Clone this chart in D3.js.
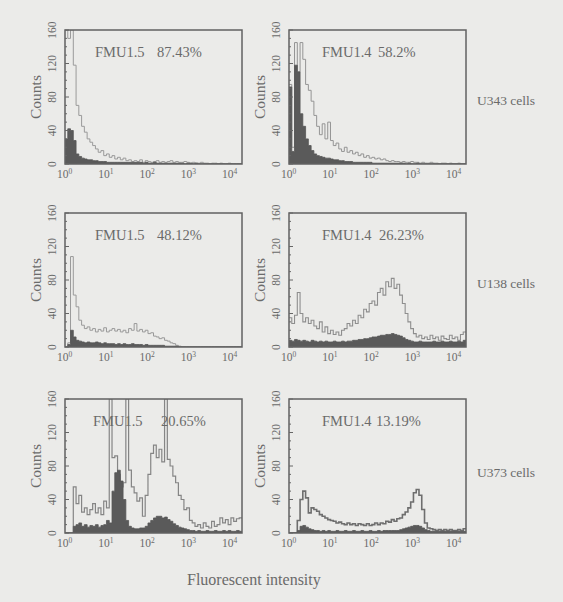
<!DOCTYPE html>
<html>
<head>
<meta charset="utf-8">
<script src="https://cdn.jsdelivr.net/npm/d3@7"></script>
<style>
  html, body { margin: 0; padding: 0; background: #ebebe9; }
  svg { display: block; }
  text { font-family: "Liberation Serif", "DejaVu Serif", serif; }
</style>
</head>
<body>
<svg id="chart" width="563" height="602"></svg>
<script>
// ---------------- DATA ----------------
const cellLines = ["U343 cells", "U138 cells", "U373 cells"];
const antibodies = ["FMU1.5", "FMU1.4"];
const percents = [["87.43%", "58.2%"], ["48.12%", "26.23%"], ["20.65%", "13.19%"]];
const yTicks = [0, 40, 80, 120, 160];
const xTicks = [1, 10, 100, 1000, 10000];
const xTickExp = ["0", "1", "2", "3", "4"];
const yMax = 160;
const binsPerDecade = 16;
const xAxisTitle = "Fluorescent intensity";
const yAxisTitle = "Counts";

// histograms: 64 log-spaced channels (16 per decade), counts per channel
const u343_fmu15_sample = [160,150,160,118,70,58,45,38,30,26, 22,18,14,16,10,12,8,10,6,8, 5,7,4,5,3,4,3,5,2,4, 3,2,3,4,2,3,2,3,4,2, 3,2,2,3,2,1,2,1,1,2, 1,1,0,1,1,0,1,0,0,1, 0,0,0,0];
const u343_fmu15_control = [30,42,40,28,12,9,7,6,5,5, 4,4,3,3,3,2,2,2,2,2, 2,2,2,2,2,2,2,2,1,2, 1,1,2,1,1,1,1,1,1,1, 1,1,1,0,1,1,0,1,0,0, 0,0,0,0,0,0,0,0,0,0, 0,0,0,0];
const u343_fmu14_sample = [95,20,145,110,145,125,95,88,75,58, 45,35,48,30,50,28,22,25,18,15, 20,14,16,12,14,10,12,8,10,7, 8,6,7,5,6,4,3,4,3,3, 2,3,2,2,3,2,2,1,2,1, 1,2,1,1,0,1,1,0,1,0, 0,1,0,0];
const u343_fmu14_control = [92,15,118,110,60,45,30,22,16,12, 10,9,8,7,7,6,5,5,4,4, 3,3,3,2,2,2,2,2,2,2, 1,1,1,1,1,1,1,1,1,1, 1,1,0,1,0,0,1,0,0,0, 0,0,0,0,0,0,0,0,0,0, 0,0,0,0];
const u138_fmu15_sample = [0,5,108,62,48,32,26,22,24,20, 22,18,21,19,23,18,20,22,19,21, 18,20,17,22,20,28,19,21,18,20, 16,17,13,12,10,11,8,7,5,4, 2,1,0,0,0,0,0,0,0,0, 0,0,0,0,0,0,0,0,0,0, 0,0,0,0];
const u138_fmu15_control = [0,3,20,12,8,7,6,5,6,5, 5,6,5,4,5,4,4,4,3,4, 3,4,3,3,4,3,3,3,2,3, 2,2,2,2,2,2,1,1,1,1, 1,0,0,0,0,0,0,0,0,0, 0,0,0,0,0,0,0,0,0,0, 0,0,0,0];
const u138_fmu14_sample = [35,28,38,65,40,30,35,28,32,25, 22,30,18,24,16,20,15,18,14,20, 22,28,25,32,28,38,35,45,42,52, 55,50,65,70,62,78,72,82,70,75, 62,52,40,30,22,16,12,14,10,12, 9,14,10,12,8,13,10,9,14,10, 12,8,15,18];
const u138_fmu14_control = [8,7,9,8,7,8,7,6,8,7, 6,7,6,7,6,6,7,6,6,7, 6,7,7,8,8,9,9,10,10,11, 12,12,13,14,14,15,15,16,15,14, 13,11,9,8,7,6,6,7,6,6, 6,6,7,6,6,7,6,6,7,6, 6,7,6,8];
const u373_fmu15_sample = [0,0,0,55,35,45,25,30,22,28, 35,24,30,22,38,30,160,90,92,70, 55,60,160,75,55,48,38,42,20,45, 70,95,105,90,100,85,160,88,80,68, 60,45,40,28,30,15,12,8,10,6, 12,8,6,14,8,10,18,12,16,10, 18,14,17,18];
const u373_fmu15_control = [0,0,0,8,10,12,8,10,7,9, 8,10,7,9,10,15,12,50,72,75, 62,40,15,8,6,5,5,6,6,8, 12,15,18,20,20,18,19,16,14,11, 9,7,6,5,4,3,3,2,3,2, 2,3,2,2,3,2,2,3,2,3, 2,2,3,2];
const u373_fmu14_sample = [0,0,0,15,40,50,42,24,30,28, 26,22,20,18,16,15,14,12,13,11, 10,12,10,11,9,11,10,9,11,9, 10,12,10,12,11,14,13,16,14,17, 18,22,25,30,37,48,52,45,28,12, 6,5,4,3,4,3,4,3,4,3, 3,4,3,5];
const u373_fmu14_control = [0,0,0,3,8,9,7,5,4,3, 3,2,3,2,3,2,2,3,2,2, 3,2,2,3,2,2,3,2,2,3, 2,2,3,2,3,3,3,3,3,3, 4,5,6,7,8,9,9,8,6,4, 3,2,2,2,2,2,2,2,2,2, 2,2,2,2];

const sampleSeries = [[u343_fmu15_sample, u343_fmu14_sample], [u138_fmu15_sample, u138_fmu14_sample], [u373_fmu15_sample, u373_fmu14_sample]];
const controlSeries = [[u343_fmu15_control, u343_fmu14_control], [u138_fmu15_control, u138_fmu14_control], [u373_fmu15_control, u373_fmu14_control]];

// ---------------- LAYOUT ----------------
const colX = [65, 289];
const rowY = [30, 213, 399];
const PW = 177, PH = 134;
const titleX = [[95, 322], [95, 322], [93, 322]];
const pctX = [[157, 378], [157, 379], [161, 376]];
const rowLabelBase = [105, 288, 477];
const lineStyle = [[["#9a9a9a", 1], ["#949494", 1]], [["#9a9a9a", 1], ["#8e8e8e", 1.1]], [["#858585", 1.2], ["#6e6e6e", 1.6]]];

const svg = d3.select("#chart");
const textCol = "#6a6a6a";

rowY.forEach((ty, r) => {
  colX.forEach((lx, c) => {
    const g = svg.append("g");
    const x = d3.scaleLog().domain([xTicks[0], xTicks[xTicks.length - 1]]).range([lx, lx + PW]);
    const xl = d3.scaleLog().domain([xTicks[0], xTicks[xTicks.length - 1]]).range([lx - 8, lx + PW - 20]);
    const y = d3.scaleLinear().domain([0, yMax]).range([ty + PH, ty]);

    const id = `clip${r}${c}`;
    svg.append("clipPath").attr("id", id).append("rect")
      .attr("x", lx).attr("y", ty).attr("width", PW).attr("height", PH);

    const toPts = arr => {
      const pts = arr.map((v, i) => [Math.pow(10, i / binsPerDecade), v]);
      pts.push([Math.pow(10, arr.length / binsPerDecade), arr[arr.length - 1]]);
      return pts;
    };

    const line = d3.line().x(d => x(d[0])).y(d => y(d[1])).curve(d3.curveStepAfter);
    const area = d3.area().x(d => x(d[0])).y0(y(0)).y1(d => y(d[1])).curve(d3.curveStepAfter);

    const [sc, sw] = lineStyle[r][c];
    g.append("path").attr("clip-path", `url(#${id})`)
      .attr("d", line(toPts(sampleSeries[r][c])))
      .attr("fill", "none").attr("stroke", sc).attr("stroke-width", sw);
    g.append("path").attr("clip-path", `url(#${id})`)
      .attr("d", area(toPts(controlSeries[r][c])))
      .attr("fill", "#5a5a5a").attr("stroke", "#555").attr("stroke-width", 0.8);

    // frame
    g.append("rect").attr("x", lx).attr("y", ty).attr("width", PW).attr("height", PH)
      .attr("fill", "none").attr("stroke", "#626262").attr("stroke-width", 1.5);

    // minor y ticks
    d3.range(0, yMax + 1, 10).forEach(v => {
      const len = v % 40 === 0 ? 4 : 2;
      g.append("line").attr("x1", lx).attr("x2", lx + len).attr("y1", y(v)).attr("y2", y(v))
        .attr("stroke", "#666").attr("stroke-width", 1);
    });

    // y tick labels (rotated)
    yTicks.forEach(v => {
      g.append("text").attr("transform", `translate(${lx - 9},${y(v)}) rotate(-90)`)
        .attr("text-anchor", "middle").attr("font-size", 11.5).attr("fill", textCol).text(v);
    });

    // x tick labels
    xTicks.forEach((v, i) => {
      const t = g.append("text").attr("x", xl(v)).attr("y", ty + PH + 14)
        .attr("font-size", 11.5).attr("fill", textCol);
      t.append("tspan").text("10");
      t.append("tspan").attr("dy", -4).attr("font-size", 7.5).text(xTickExp[i]);
    });

    // y axis title
    g.append("text").attr("transform", `translate(${lx - 24},${ty + PH / 2}) rotate(-90)`)
      .attr("text-anchor", "middle").attr("font-size", 15.5).attr("fill", textCol).text(yAxisTitle);

    // panel title
    g.append("text").attr("x", titleX[r][c]).attr("y", ty + 27)
      .attr("font-size", 14.5).attr("fill", textCol).text(antibodies[c]);
    g.append("text").attr("x", pctX[r][c]).attr("y", ty + 27)
      .attr("font-size", 14.5).attr("fill", textCol).text(percents[r][c]);
  });

  svg.append("text").attr("x", 477).attr("y", rowLabelBase[r])
    .attr("font-size", 13.5).attr("fill", textCol).text(cellLines[r]);
});

svg.append("text").attr("x", 187).attr("y", 585)
  .attr("font-size", 16).attr("fill", textCol).text(xAxisTitle);
</script>
</body>
</html>
